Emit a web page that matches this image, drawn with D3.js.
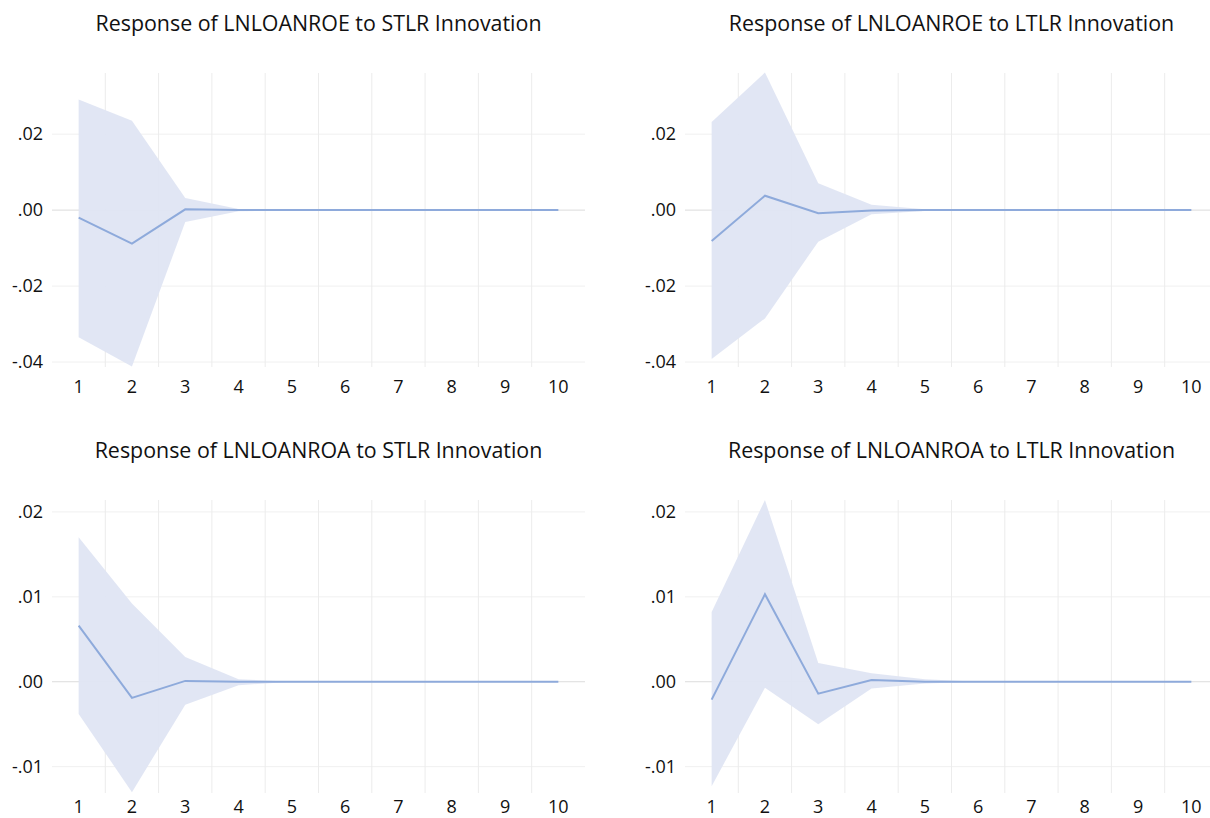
<!DOCTYPE html>
<html><head><meta charset="utf-8">
<script src="https://cdn.jsdelivr.net/npm/d3@7"></script>
<style>body{margin:0;background:#fff;}svg{display:block;}</style>
</head><body>
<svg id="chart" width="1210" height="818"></svg>
<script>
const periods = [1,2,3,4,5,6,7,8,9,10];

const titles = [
  "Response of LNLOANROE to STLR Innovation",
  "Response of LNLOANROE to LTLR Innovation",
  "Response of LNLOANROA to STLR Innovation",
  "Response of LNLOANROA to LTLR Innovation"
];

// Panel 1: LNLOANROE to STLR
const roeStlrResp  = [-0.0020, -0.0088, 0.0002, 0.0000, 0, 0, 0, 0, 0, 0];
const roeStlrUpper = [ 0.0291,  0.0235, 0.0032, 0.0003, 0, 0, 0, 0, 0, 0];
const roeStlrLower = [-0.0335, -0.0412,-0.0031,-0.0003, 0, 0, 0, 0, 0, 0];

// Panel 2: LNLOANROE to LTLR
const roeLtlrResp  = [-0.0081, 0.0038, -0.0008, -0.0001, 0, 0, 0, 0, 0, 0];
const roeLtlrUpper = [ 0.0232, 0.0362,  0.0071,  0.0014, 0.0002, 0, 0, 0, 0, 0];
const roeLtlrLower = [-0.0392,-0.0285, -0.0083, -0.0011,-0.0002, 0, 0, 0, 0, 0];

// Panel 3: LNLOANROA to STLR
const roaStlrResp  = [ 0.0066, -0.0019, 0.0001, 0.0000, 0, 0, 0, 0, 0, 0];
const roaStlrUpper = [ 0.0170,  0.0092, 0.0029, 0.0003, 0, 0, 0, 0, 0, 0];
const roaStlrLower = [-0.0038, -0.0130,-0.0027,-0.0004, 0, 0, 0, 0, 0, 0];

// Panel 4: LNLOANROA to LTLR
const roaLtlrResp  = [-0.0021, 0.0103, -0.0014, 0.0002, 0.0000, 0, 0, 0, 0, 0];
const roaLtlrUpper = [ 0.0082, 0.0214,  0.0022, 0.0010, 0.0003, 0, 0, 0, 0, 0];
const roaLtlrLower = [-0.0123,-0.0007, -0.0050,-0.0008,-0.0002, 0, 0, 0, 0, 0];

const roeTicks = [0.02, 0.00, -0.02, -0.04];
const roaTicks = [0.02, 0.01, 0.00, -0.01];
const roeTickLabels = [".02", ".00", "-.02", "-.04"];
const roaTickLabels = [".02", ".01", ".00", "-.01"];
const roeDomain = [-0.0413, 0.0361];
const roaDomain = [-0.0131, 0.0214];

const panels = [
  {title: titles[0], resp: roeStlrResp, up: roeStlrUpper, lo: roeStlrLower, ticks: roeTicks, labels: roeTickLabels, domain: roeDomain, x0: 52, top: 73, bottom: 367, titleY: 31, xlabY: 393},
  {title: titles[1], resp: roeLtlrResp, up: roeLtlrUpper, lo: roeLtlrLower, ticks: roeTicks, labels: roeTickLabels, domain: roeDomain, x0: 685, top: 73, bottom: 367, titleY: 31, xlabY: 393},
  {title: titles[2], resp: roaStlrResp, up: roaStlrUpper, lo: roaStlrLower, ticks: roaTicks, labels: roaTickLabels, domain: roaDomain, x0: 52, top: 500, bottom: 793, titleY: 458, xlabY: 813},
  {title: titles[3], resp: roaLtlrResp, up: roaLtlrUpper, lo: roaLtlrLower, ticks: roaTicks, labels: roaTickLabels, domain: roaDomain, x0: 685, top: 500, bottom: 793, titleY: 458, xlabY: 813}
];

const svg = d3.select("#chart");
const font = "'Open Sans', 'Noto Sans', sans-serif";
const plotW = 533;

panels.forEach(p => {
  const g = svg.append("g");
  const x = d3.scaleBand().domain(periods).range([p.x0, p.x0 + plotW]);
  const cx = d => x(d) + x.bandwidth() / 2;
  const y = d3.scaleLinear().domain(p.domain).range([p.bottom, p.top]);

  // horizontal grid
  g.selectAll(".hg").data(p.ticks).enter().append("line")
    .attr("x1", p.x0).attr("x2", p.x0 + plotW)
    .attr("y1", d => y(d)).attr("y2", d => y(d))
    .attr("stroke", d => d === 0 ? "#dcdcdc" : "#f0f0f0").attr("stroke-width", 1);
  // vertical grid between periods
  g.selectAll(".vg").data(periods.slice(1)).enter().append("line")
    .attr("x1", d => x(d)).attr("x2", d => x(d))
    .attr("y1", p.top).attr("y2", p.bottom)
    .attr("stroke", "#ececec").attr("stroke-width", 1);

  const idx = d3.range(periods.length);
  const area = d3.area()
    .x(i => cx(periods[i]))
    .y0(i => y(p.lo[i])).y1(i => y(p.up[i]));
  g.append("path").datum(idx).attr("d", area)
    .attr("fill", "#dfe5f3").attr("fill-opacity", 0.95);

  const line = d3.line().x(i => cx(periods[i])).y(i => y(p.resp[i]));
  g.append("path").datum(idx).attr("d", line)
    .attr("fill", "none").attr("stroke", "#8eaadb").attr("stroke-width", 2);

  // y tick labels
  g.selectAll(".yl").data(p.ticks).enter().append("text")
    .attr("x", p.x0 - 9).attr("y", d => y(d))
    .attr("dy", "0.35em").attr("text-anchor", "end")
    .attr("font-family", font).attr("font-size", 18).attr("fill", "#111")
    .text((d, i) => p.labels[i]);
  // x tick labels
  g.selectAll(".xl").data(periods).enter().append("text")
    .attr("x", d => cx(d)).attr("y", p.xlabY)
    .attr("text-anchor", "middle")
    .attr("font-family", font).attr("font-size", 18).attr("fill", "#111")
    .text(d => d);
  // title
  g.append("text").attr("x", p.x0 + plotW / 2).attr("y", p.titleY)
    .attr("text-anchor", "middle")
    .attr("font-family", font).attr("font-size", 21.4).attr("fill", "#111")
    .text(p.title);
});
</script>
</body></html>
